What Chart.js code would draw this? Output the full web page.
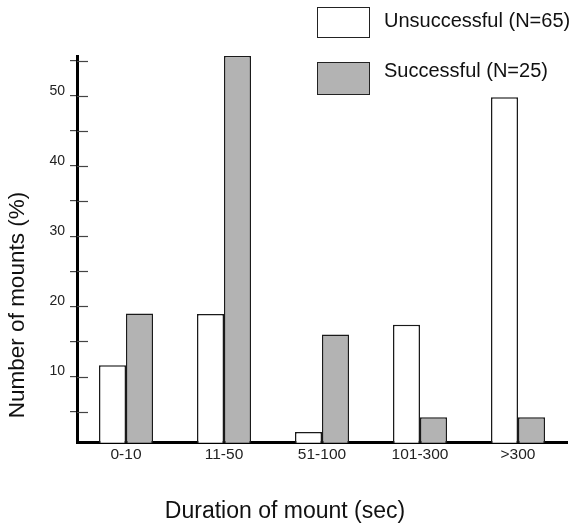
<!DOCTYPE html>
<html><head><meta charset="utf-8">
<script src="https://cdn.jsdelivr.net/npm/chart.js@4/dist/chart.umd.min.js"></script>
<style>
html,body{margin:0;padding:0;background:#fff;}
#wrap{position:relative;width:574px;height:525px;overflow:hidden;}
canvas{position:absolute;left:0;top:0;}
.lgtext{position:absolute;font-family:"Liberation Sans",Arial,sans-serif;font-size:20px;line-height:22px;color:#111;white-space:nowrap;}
.lgbox{position:absolute;border:1.5px solid #222;box-sizing:border-box;}
</style></head><body>
<div id="wrap"><canvas id="c" width="574" height="525"></canvas></div>
<script>
// ---- data ----
const categories = ['0-10', '11-50', '51-100', '101-300', '>300'];
const seriesNames = ['Unsuccessful (N=65)', 'Successful (N=25)'];
const unsuccessful = [11.6, 18.9, 2.1, 17.4, 49.8];
const successful = [19.0, 55.7, 16.0, 4.2, 4.2];
const yTickValues = [5, 10, 15, 20, 25, 30, 35, 40, 45, 50, 55];
const yLabelValues = [10, 20, 30, 40, 50];
const xTitle = 'Duration of mount (sec)';
const yTitle = 'Number of mounts (%)';

const FONT = '"Liberation Sans", Arial, sans-serif';
const fills = ['#ffffff', '#b3b3b3'];

// legend (HTML, built from series names)
const wrap = document.getElementById('wrap');
const legendPos = [{box: [317, 7, 53, 31], text: [384, 9]}, {box: [317, 62, 53, 33], text: [384, 59]}];
seriesNames.forEach((name, i) => {
  const b = document.createElement('div');
  b.className = 'lgbox';
  const p = legendPos[i];
  b.style.cssText = `left:${p.box[0]}px;top:${p.box[1]}px;width:${p.box[2]}px;height:${p.box[3]}px;background:${fills[i]}`;
  wrap.appendChild(b);
  const t = document.createElement('div');
  t.className = 'lgtext';
  t.style.left = p.text[0] + 'px';
  t.style.top = p.text[1] + 'px';
  t.textContent = name;
  wrap.appendChild(t);
});

const extras = {
  id: 'extras',
  afterDraw(chart) {
    const ctx = chart.ctx, ys = chart.scales.y, ca = chart.chartArea;
    ctx.save();
    // inner halves of y tick marks
    ctx.strokeStyle = '#444';
    ctx.lineWidth = 1.2;
    yTickValues.forEach(v => {
      const y = Math.round(ys.getPixelForValue(v)) + 0.5;
      ctx.beginPath();
      ctx.moveTo(ca.left, y);
      ctx.lineTo(ca.left + 11, y);
      ctx.stroke();
    });
    // axis titles
    ctx.fillStyle = '#111';
    ctx.textAlign = 'center';
    ctx.textBaseline = 'middle';
    ctx.font = '23px ' + FONT;
    ctx.fillText(xTitle, 285, 512);
    ctx.font = '22.5px ' + FONT;
    ctx.translate(18, 305);
    ctx.rotate(-Math.PI / 2);
    ctx.fillText(yTitle, 0, 0);
    ctx.restore();
  }
};

new Chart(document.getElementById('c'), {
  type: 'bar',
  data: {
    labels: categories,
    datasets: [
      {label: seriesNames[0], data: unsuccessful, backgroundColor: fills[0], borderColor: '#1a1a1a', borderWidth: 1.5},
      {label: seriesNames[1], data: successful, backgroundColor: fills[1], borderColor: '#1a1a1a', borderWidth: 1.5}
    ]
  },
  options: {
    responsive: false,
    animation: false,
    devicePixelRatio: 1,
    layout: {padding: {top: 56, right: 7, left: 0, bottom: 0}},
    plugins: {legend: {display: false}, tooltip: {enabled: false}},
    datasets: {bar: {categoryPercentage: 0.551, barPercentage: 1.0}},
    scales: {
      x: {
        offset: true,
        grid: {display: false, drawTicks: false},
        border: {display: true, color: '#000', width: 3},
        ticks: {font: {family: FONT, size: 15.5}, color: '#222', padding: 3, maxRotation: 0},
        afterFit(s) { s.height = 82.3; }
      },
      y: {
        min: 0.58,
        max: 55.67,
        afterBuildTicks(s) { s.ticks = yTickValues.map(v => ({value: v})); },
        grid: {display: true, drawOnChartArea: false, drawTicks: true, tickLength: 7, color: '#444', lineWidth: 1.2},
        border: {display: true, color: '#000', width: 3},
        ticks: {
          font: {family: FONT, size: 14}, color: '#222', padding: 5, labelOffset: -5,
          callback: v => yLabelValues.includes(v) ? String(v) : ''
        },
        afterFit(s) { s.width = 77; }
      }
    }
  },
  plugins: [extras]
});
</script>
</body></html>
